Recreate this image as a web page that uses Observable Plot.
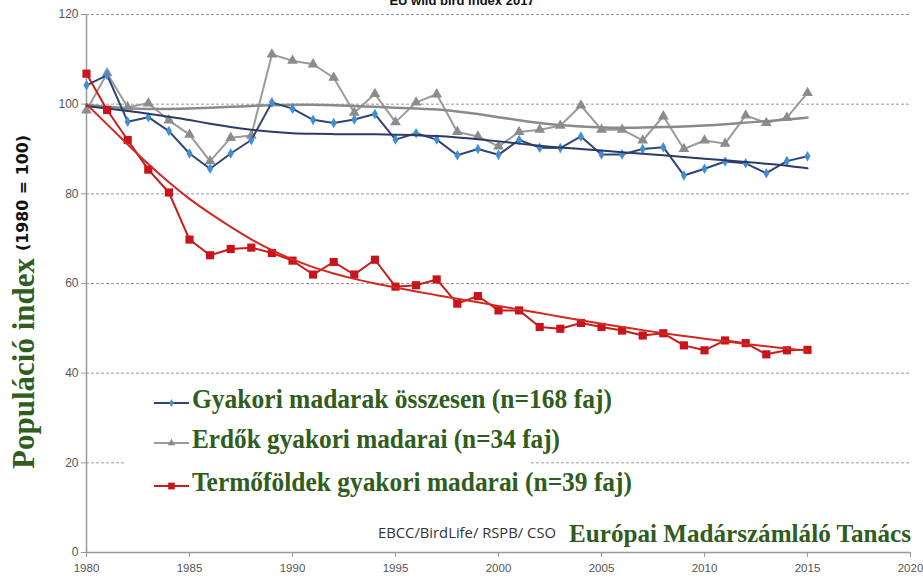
<!DOCTYPE html>
<html>
<head>
<meta charset="utf-8">
<script src="https://cdn.jsdelivr.net/npm/d3@7"></script>
<script src="https://cdn.jsdelivr.net/npm/@observablehq/plot@0.6"></script>
<style>
  html, body { margin: 0; padding: 0; background: #fff; }
  #chart { width: 923px; height: 586px; overflow: hidden; }
</style>
</head>
<body>
<div id="chart"></div>
<script>
const years = [1980,1981,1982,1983,1984,1985,1986,1987,1988,1989,1990,1991,1992,1993,1994,1995,1996,1997,1998,1999,2000,2001,2002,2003,2004,2005,2006,2007,2008,2009,2010,2011,2012,2013,2014,2015];

const common = [104.2,106.5,96.1,97.1,94.0,89.0,85.6,89.0,92.0,100.4,99.0,96.5,95.8,96.6,97.8,92.1,93.5,92.1,88.6,90.0,88.7,92.0,90.3,90.2,92.8,88.8,88.8,90.0,90.4,84.1,85.6,87.2,86.8,84.6,87.3,88.4];
const forest = [98.6,106.9,99.3,100.2,96.4,93.2,87.3,92.5,93.0,111.1,109.7,108.9,105.9,98.1,102.3,96.0,100.4,102.2,93.8,92.8,90.6,93.8,94.3,95.2,99.7,94.3,94.3,91.9,97.3,90.0,91.9,91.2,97.5,95.8,97.0,102.5];
const farmland = [106.8,98.7,92.0,85.4,80.3,69.8,66.3,67.7,68.0,66.8,65.1,62.0,64.8,62.0,65.3,59.3,59.6,60.9,55.5,57.2,54.0,54.0,50.3,49.9,51.2,50.3,49.5,48.4,48.9,46.2,45.1,47.3,46.7,44.2,45.1,45.2];

const commonTrend = [99.6,99.0,98.5,97.9,97.2,96.5,95.6,94.9,94.3,93.8,93.5,93.4,93.3,93.3,93.3,93.2,93.1,92.9,92.6,92.2,91.7,91.2,90.7,90.3,90.0,89.7,89.3,88.9,88.6,88.2,87.8,87.5,87.1,86.7,86.3,85.7];
const forestTrend = [99.8,99.4,99.1,98.9,98.9,99.0,99.2,99.4,99.6,99.8,99.9,99.9,99.8,99.6,99.4,99.2,99.0,98.9,98.4,97.8,97.1,96.4,95.8,95.3,95.0,94.8,94.7,94.8,94.9,95.0,95.2,95.5,95.9,96.2,96.6,97.0];
const farmTrend = [100.0,95.5,91.0,86.6,82.5,78.8,75.6,72.6,69.8,67.4,65.3,63.6,62.2,61.0,60.0,59.1,58.2,57.4,56.6,55.8,55.0,54.2,53.4,52.6,51.8,51.0,50.3,49.6,48.9,48.3,47.7,47.1,46.5,46.0,45.5,45.0];

const xTicks = [1980,1985,1990,1995,2000,2005,2010,2015,2020];
const yTicks = [0,20,40,60,80,100,120];

const seriesLabels = [
  "Gyakori madarak összesen (n=168 faj)",
  "Erdők gyakori madarai (n=34 faj)",
  "Termőföldek gyakori madarai (n=39 faj)"
];
const titleText = "EU wild bird index 2017";
const yLabelMain = "Populáció index";
const yLabelSub = "(1980 = 100)";
const sourceText = "EBCC/BirdLife/ RSPB/ CSO";
const orgText = "Európai Madárszámláló Tanács";

const toRows = (vals) => years.map((y, i) => ({year: y, value: vals[i]}));

const BLUE_LINE = "#2e4677", BLUE_DOT = "#3f8ed6";
const GRAY_LINE = "#9a9a9a", GRAY_DOT = "#8c8c8c";
const RED_LINE = "#c91d1a", RED_DOT = "#c8141a";
const GREEN = "#2f5d1d";
const SERIF = "'Liberation Serif', 'Times New Roman', serif";

const chart = Plot.plot({
  width: 923, height: 586,
  marginLeft: 86, marginRight: 13, marginTop: 14, marginBottom: 34,
  style: {fontFamily: "'Liberation Sans', Arial, sans-serif", fontSize: "11px", background: "#fff"},
  x: {domain: [1980, 2020]},
  y: {domain: [0, 120]},
  marks: [
    Plot.gridY(yTicks.filter(d => d > 0), {stroke: "#9a9a9a", strokeOpacity: 1, strokeDasharray: "3,2"}),
    Plot.axisY(yTicks, {tickSize: 5, tickPadding: 3, stroke: "#999", fill: "#555", fontSize: 12, label: null}),
    Plot.axisX(xTicks, {tickSize: 5, tickPadding: 6, stroke: "#999", fill: "#555", fontSize: 11.5, tickFormat: d => String(d), label: null}),
    Plot.ruleX([1980], {stroke: "#999", strokeWidth: 1.5}),
    Plot.ruleY([0], {stroke: "#999", strokeWidth: 1.5}),
    // forest
    Plot.line(toRows(forest), {x: "year", y: "value", stroke: GRAY_LINE, strokeWidth: 2}),
    Plot.dot(toRows(forest), {x: "year", y: "value", symbol: "triangle", r: 4, fill: GRAY_DOT}),
    Plot.line(toRows(forestTrend), {x: "year", y: "value", stroke: "#8a8a8a", strokeWidth: 2.5, curve: "basis"}),
    // common
    Plot.line(toRows(common), {x: "year", y: "value", stroke: BLUE_LINE, strokeWidth: 2}),
    Plot.dot(toRows(common), {x: "year", y: "value", symbol: "diamond", r: 3.2, fill: BLUE_DOT}),
    Plot.line(toRows(commonTrend), {x: "year", y: "value", stroke: "#2b3a66", strokeWidth: 2, curve: "basis"}),
    // farmland
    Plot.line(toRows(farmland), {x: "year", y: "value", stroke: RED_LINE, strokeWidth: 2}),
    Plot.dot(toRows(farmland), {x: "year", y: "value", symbol: "square", r: 4.6, fill: RED_DOT}),
    Plot.line(toRows(farmTrend), {x: "year", y: "value", stroke: "#d3271f", strokeWidth: 2, curve: "basis"})
  ]
});

document.getElementById("chart").appendChild(chart);

const svg = d3.select(chart);

// Title (clipped at top like the reference)
svg.append("text").attr("x", 462).attr("y", 5).attr("text-anchor", "middle")
  .attr("font-family", "'Liberation Sans', Arial, sans-serif").attr("font-weight", "bold")
  .attr("font-size", 13).attr("fill", "#111").text(titleText);

// Y label
svg.append("text").attr("transform", "translate(34,469) rotate(-90)")
  .attr("text-anchor", "start")
  .attr("font-family", SERIF).attr("font-weight", "bold").attr("font-size", 32).attr("fill", GREEN)
  .attr("textLength", 211).attr("lengthAdjust", "spacingAndGlyphs").text(yLabelMain);
svg.append("text").attr("transform", "translate(28,251) rotate(-90)")
  .attr("text-anchor", "start")
  .attr("font-family", "'DejaVu Sans', Verdana, sans-serif").attr("font-weight", "bold")
  .attr("font-size", 16).attr("fill", "#111")
  .attr("textLength", 116).attr("lengthAdjust", "spacingAndGlyphs").text(yLabelSub);

// Legend background
svg.append("rect").attr("x", 124).attr("y", 380).attr("width", 406).attr("height", 118).attr("fill", "#fff");

const legend = [
  {label: seriesLabels[0], line: BLUE_LINE, dot: BLUE_DOT, sym: d3.symbolDiamond, size: 18, y: 403, w: 420},
  {label: seriesLabels[1], line: GRAY_LINE, dot: GRAY_DOT, sym: d3.symbolTriangle, size: 24, y: 443, w: 368},
  {label: seriesLabels[2], line: RED_LINE, dot: RED_DOT, sym: d3.symbolSquare, size: 45, y: 486, w: 440}
];
legend.forEach(l => {
  svg.append("line").attr("x1", 154).attr("x2", 189).attr("y1", l.y).attr("y2", l.y)
    .attr("stroke", l.line).attr("stroke-width", 2);
  svg.append("path").attr("d", d3.symbol(l.sym, l.size)()).attr("transform", `translate(171.5,${l.y})`)
    .attr("fill", l.dot);
  svg.append("text").attr("x", 192).attr("y", l.y + 5).attr("text-anchor", "start")
    .attr("font-family", SERIF).attr("font-weight", "bold")
    .attr("font-size", 28).attr("fill", GREEN)
    .attr("textLength", l.w).attr("lengthAdjust", "spacingAndGlyphs").text(l.label);
});

// Source / organisation
svg.append("text").attr("x", 378).attr("y", 538).attr("text-anchor", "start")
  .attr("font-family", "'Open Sans', 'DejaVu Sans', sans-serif").attr("font-size", 14).attr("fill", "#333")
  .attr("textLength", 178).attr("lengthAdjust", "spacingAndGlyphs").text(sourceText);
svg.append("text").attr("x", 569).attr("y", 542).attr("text-anchor", "start")
  .attr("font-family", SERIF).attr("font-weight", "bold")
  .attr("font-size", 26).attr("fill", GREEN)
  .attr("textLength", 342).attr("lengthAdjust", "spacingAndGlyphs").text(orgText);
</script>
</body>
</html>
